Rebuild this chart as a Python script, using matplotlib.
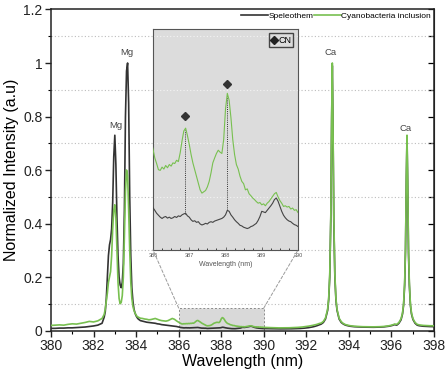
import numpy as np
import matplotlib
matplotlib.use("Agg")
import matplotlib.pyplot as plt
from matplotlib.patches import Rectangle, ConnectionPatch
from matplotlib.lines import Line2D
from matplotlib.ticker import MultipleLocator, FixedLocator, FixedFormatter
import matplotlib.transforms as mtransforms

plt.rcParams['font.family'] = ['Liberation Sans', 'DejaVu Sans']

# ---------------- data ----------------
wl_a = [380.0, 380.2, 380.4, 380.6, 380.8, 381.0, 381.2, 381.4, 381.6, 381.8, 382.0, 382.2, 382.4]
blk_a = [0.008, 0.008, 0.009, 0.009, 0.010, 0.010, 0.011, 0.012, 0.013, 0.015, 0.017, 0.020, 0.027]
grn_a = [0.019, 0.020, 0.021, 0.020, 0.023, 0.025, 0.024, 0.027, 0.030, 0.034, 0.032, 0.036, 0.045]

wl_mg = [382.50, 382.55, 382.60, 382.65, 382.70, 382.75, 382.80, 382.85, 382.90, 382.95,
         383.00, 383.05, 383.10, 383.15, 383.20, 383.25, 383.30, 383.35, 383.40, 383.45,
         383.50, 383.55, 383.60, 383.65, 383.70, 383.75, 383.80, 383.85, 383.90, 383.95,
         384.00, 384.05, 384.10, 384.15, 384.20]
blk_mg = [0.05, 0.07, 0.12, 0.20, 0.28, 0.32, 0.34, 0.38, 0.48, 0.65,
          0.73, 0.62, 0.42, 0.28, 0.20, 0.17, 0.16, 0.18, 0.25, 0.45,
          0.80, 0.97, 1.00, 0.85, 0.50, 0.28, 0.16, 0.11, 0.08, 0.065,
          0.055, 0.048, 0.043, 0.040, 0.037]
grn_mg = [0.06, 0.08, 0.11, 0.14, 0.18, 0.20, 0.22, 0.28, 0.38, 0.45,
          0.47, 0.42, 0.30, 0.18, 0.12, 0.10, 0.105, 0.13, 0.20, 0.35,
          0.52, 0.60, 0.58, 0.45, 0.30, 0.18, 0.12, 0.09, 0.075, 0.065,
          0.058, 0.052, 0.050, 0.048, 0.046]

wl_b = [384.3, 384.4, 384.5, 384.6, 384.7, 384.8, 384.9, 385.0, 385.1, 385.2,
        385.3, 385.4, 385.5, 385.6, 385.7, 385.8, 385.9, 386.0]
blk_b = [0.035, 0.033, 0.031, 0.030, 0.029, 0.028, 0.027, 0.025, 0.024, 0.022,
         0.021, 0.020, 0.019, 0.018, 0.017, 0.016, 0.015, 0.013]
grn_b = [0.045, 0.043, 0.042, 0.040, 0.041, 0.043, 0.045, 0.042, 0.039, 0.037,
         0.036, 0.035, 0.037, 0.041, 0.045, 0.042, 0.036, 0.031]

# CN region (386 - 390 nm), 0.05 nm steps
wl_cn = [386.05, 386.10, 386.15, 386.20, 386.25, 386.30, 386.35, 386.40, 386.45, 386.50,
         386.55, 386.60, 386.65, 386.70, 386.75, 386.80, 386.85, 386.90, 386.95, 387.00,
         387.05, 387.10, 387.15, 387.20, 387.25, 387.30, 387.35, 387.40, 387.45, 387.50,
         387.55, 387.60, 387.65, 387.70, 387.75, 387.80, 387.85, 387.90, 387.95, 388.00,
         388.05, 388.10, 388.15, 388.20, 388.25, 388.30, 388.35, 388.40, 388.45, 388.50,
         388.55, 388.60, 388.65, 388.70, 388.75, 388.80, 388.85, 388.90, 388.95, 389.00,
         389.05, 389.10, 389.15, 389.20, 389.25, 389.30, 389.35, 389.40, 389.45, 389.50,
         389.55, 389.60, 389.65, 389.70, 389.75, 389.80, 389.85, 389.90, 389.95, 390.00]
grn_cn = [0.0283, 0.0266, 0.0247, 0.0245, 0.0255, 0.0249, 0.0260, 0.0253, 0.0263, 0.0258,
          0.0268, 0.0266, 0.0276, 0.0272, 0.0299, 0.0335, 0.0366, 0.0375, 0.0352, 0.0325,
          0.0294, 0.0268, 0.0247, 0.0227, 0.0204, 0.0185, 0.0175, 0.0179, 0.0183, 0.0194,
          0.0211, 0.0237, 0.0268, 0.0283, 0.0297, 0.0307, 0.0301, 0.0297, 0.0340, 0.0433,
          0.0482, 0.0461, 0.0407, 0.0340, 0.0294, 0.0263, 0.0249, 0.0227, 0.0211, 0.0204,
          0.0185, 0.0188, 0.0173, 0.0167, 0.0160, 0.0155, 0.0149, 0.0144, 0.0146, 0.0139,
          0.0142, 0.0136, 0.0144, 0.0149, 0.0157, 0.0165, 0.0173, 0.0177, 0.0163, 0.0152,
          0.0144, 0.0134, 0.0136, 0.0132, 0.0134, 0.0126, 0.0129, 0.0122, 0.0124, 0.0115]
blk_cn = [0.0122, 0.0113, 0.0107, 0.0101, 0.0097, 0.0101, 0.0103, 0.0098, 0.0101, 0.0097,
          0.0099, 0.0103, 0.0100, 0.0105, 0.0103, 0.0108, 0.0111, 0.0113, 0.0105, 0.0101,
          0.0093, 0.0088, 0.0090, 0.0085, 0.0087, 0.0080, 0.0077, 0.0079, 0.0082, 0.0080,
          0.0085, 0.0087, 0.0085, 0.0089, 0.0091, 0.0093, 0.0095, 0.0097, 0.0101, 0.0108,
          0.0122, 0.0119, 0.0108, 0.0101, 0.0093, 0.0087, 0.0082, 0.0076, 0.0074, 0.0070,
          0.0068, 0.0066, 0.0068, 0.0072, 0.0074, 0.0078, 0.0082, 0.0091, 0.0103, 0.0119,
          0.0117, 0.0115, 0.0122, 0.0129, 0.0136, 0.0144, 0.0155, 0.0160, 0.0150, 0.0134,
          0.0119, 0.0107, 0.0099, 0.0093, 0.0089, 0.0087, 0.0082, 0.0078, 0.0076, 0.0072]

wl_c = [390.1, 390.2, 390.3, 390.4, 390.5, 390.6, 390.7, 390.8, 390.9, 391.0,
        391.1, 391.2, 391.3, 391.4, 391.5, 391.6, 391.7, 391.8, 391.9, 392.0,
        392.1, 392.2, 392.3, 392.4, 392.5, 392.6]
blk_c = [0.0072, 0.0070, 0.0068, 0.0066, 0.0065, 0.0064, 0.0063, 0.0062, 0.0062, 0.0062,
         0.0063, 0.0064, 0.0065, 0.0067, 0.0069, 0.0072, 0.0076, 0.0081, 0.0088, 0.0096,
         0.0106, 0.0120, 0.0135, 0.0155, 0.0180, 0.0210]
grn_c = [0.0115, 0.0110, 0.0108, 0.0105, 0.0102, 0.0100, 0.0098, 0.0098, 0.0097, 0.0098,
         0.0100, 0.0102, 0.0105, 0.0108, 0.0112, 0.0117, 0.0123, 0.0130, 0.0140, 0.0150,
         0.0162, 0.0176, 0.0192, 0.0210, 0.0230, 0.0260]

wl_ca1 = [392.70, 392.80, 392.90, 393.00, 393.05, 393.10, 393.15, 393.19, 393.22, 393.25,
          393.29, 393.34, 393.39, 393.44, 393.54, 393.64, 393.74, 393.84, 393.94]
grn_ca1 = [0.028, 0.034, 0.047, 0.080, 0.12, 0.21, 0.43, 0.80, 1.00, 0.80,
           0.43, 0.21, 0.12, 0.080, 0.046, 0.033, 0.026, 0.022, 0.020]
blk_ca1 = [0.024, 0.030, 0.043, 0.075, 0.115, 0.20, 0.42, 0.79, 0.99, 0.78,
           0.41, 0.20, 0.115, 0.076, 0.043, 0.030, 0.024, 0.020, 0.018]

wl_d = [394.05, 394.15, 394.25, 394.35, 394.45, 394.55, 394.65, 394.75, 394.85, 394.95,
        395.05, 395.15, 395.25, 395.35, 395.45, 395.55, 395.65, 395.75, 395.85, 395.95,
        396.05, 396.15]
grn_d = [0.018, 0.017, 0.016, 0.0155, 0.015, 0.0145, 0.0142, 0.014, 0.0138, 0.0137,
         0.0136, 0.0136, 0.0137, 0.0139, 0.0142, 0.0146, 0.0152, 0.016, 0.0172, 0.0188,
         0.021, 0.024]
blk_d = [0.016, 0.015, 0.0143, 0.0138, 0.0133, 0.013, 0.0127, 0.0125, 0.0123, 0.0122,
         0.0121, 0.0121, 0.0122, 0.0124, 0.0127, 0.0131, 0.0137, 0.0145, 0.0157, 0.0172,
         0.0192, 0.022]

wl_ca2 = [396.25, 396.35, 396.45, 396.52, 396.57, 396.62, 396.66, 396.70, 396.73, 396.76,
          396.80, 396.84, 396.89, 396.94, 397.01, 397.11, 397.21]
grn_ca2 = [0.023, 0.030, 0.044, 0.066, 0.10, 0.18, 0.31, 0.58, 0.73, 0.58,
           0.31, 0.18, 0.10, 0.066, 0.044, 0.030, 0.023]
blk_ca2 = [0.020, 0.027, 0.040, 0.062, 0.095, 0.17, 0.30, 0.57, 0.72, 0.56,
           0.29, 0.17, 0.095, 0.062, 0.041, 0.027, 0.020]

wl_e = [397.3, 397.4, 397.5, 397.6, 397.7, 397.8, 397.9, 398.0]
grn_e = [0.021, 0.020, 0.019, 0.0185, 0.018, 0.0178, 0.0176, 0.0175]
blk_e = [0.018, 0.017, 0.016, 0.0155, 0.015, 0.0148, 0.0146, 0.0145]

wavelength = np.array(wl_a + wl_mg + wl_b + wl_cn + wl_c + wl_ca1 + wl_d + wl_ca2 + wl_e)
speleothem = np.array(blk_a + blk_mg + blk_b + blk_cn + blk_c + blk_ca1 + blk_d + blk_ca2 + blk_e)
cyanobacteria = np.array(grn_a + grn_mg + grn_b + grn_cn + grn_c + grn_ca1 + grn_d + grn_ca2 + grn_e)

peak_labels = ["Mg", "Mg", "Ca", "Ca"]
peak_label_x = [383.05, 383.55, 393.12, 396.68]
peak_label_y = [0.765, 1.038, 1.040, 0.757]

cn_wl = [386.87, 388.05]
cn_marker_y = [0.0412, 0.0512]

ytick_vals = [0, 0.2, 0.4, 0.6, 0.8, 1.0, 1.2]
ytick_labels = ["0", "0.2", "0.4", "0.6", "0.8", "1", "1.2"]

# ---------------- styling ----------------
BLACK = '#333333'
GREEN = '#78c050'

fig = plt.figure(figsize=(4.48, 3.74), dpi=100)
ax = fig.add_axes([0.1138, 0.1163, 0.8550, 0.8583])

ax.plot(wavelength, speleothem, color=BLACK, lw=1.2, label='Speleothem', zorder=3)
ax.plot(wavelength, cyanobacteria, color=GREEN, lw=1.2, label='Cyanobacteria inclusion', zorder=4)

ax.set_xlim(380, 398)
ax.set_ylim(0, 1.2)
ax.set_xticks(range(380, 399, 2))
ax.xaxis.set_minor_locator(MultipleLocator(1))
ax.yaxis.set_major_locator(FixedLocator(ytick_vals))
ax.yaxis.set_major_formatter(FixedFormatter(ytick_labels))
ax.yaxis.set_minor_locator(MultipleLocator(0.1))
ax.tick_params(axis='both', which='major', direction='out', length=4, width=1.0,
               labelsize=10, colors='#222222', pad=2)
ax.tick_params(axis='both', which='minor', direction='out', length=2.5, width=0.8)
ax.tick_params(top=False, right=False, which='both')
ax.yaxis.grid(True, which='minor', linestyle=(0, (1, 2)), color='#bdbdbd', lw=0.8)
for sp in ax.spines.values():
    sp.set_color('#222222')
    sp.set_linewidth(1.1)

sec = ax.secondary_yaxis('right')
sec.yaxis.set_major_locator(MultipleLocator(0.1))
sec.tick_params(direction='in', length=4, width=0.9, labelright=False)
sec.spines['right'].set_color('#222222')

ax.set_xlabel('Wavelength (nm)', fontsize=11.5, labelpad=1)
ax.set_ylabel('Normalized Intensity (a.u)', fontsize=11.5, labelpad=3)

for t, x, y in zip(peak_labels, peak_label_x, peak_label_y):
    ax.text(x, y, t, ha='center', va='center', fontsize=6.8, color='#444444')

ax.legend(loc='upper right', bbox_to_anchor=(1.0, 1.0), frameon=False, fontsize=6,
          ncol=2, handlelength=3.2, handletextpad=0.1, columnspacing=0.0,
          borderaxespad=0.15, borderpad=0.2)

# zoomed region marker in main plot
ax.add_patch(Rectangle((386, 0), 4, 0.084, facecolor='#d9d9d9', edgecolor='#8a8a8a',
                       ls=(0, (2, 2)), lw=0.7, zorder=2))

# ---------------- inset ----------------
axin = fig.add_axes([0.3415, 0.3316, 0.3237, 0.5909])
axin.set_facecolor('#dcdcdc')
axin.plot(wavelength, speleothem, color='#444444', lw=0.8, zorder=3)
axin.plot(wavelength, cyanobacteria, color=GREEN, lw=0.8, zorder=3)
axin.set_xlim(386, 390)
axin.set_ylim(0, 0.068)
axin.set_yticks([])
axin.set_xticks([386, 387, 388, 389, 390])
axin.xaxis.set_minor_locator(MultipleLocator(0.25))
axin.tick_params(axis='x', which='major', direction='in', length=2, width=0.6,
                 labelsize=4, colors='#555555', pad=2)
axin.tick_params(axis='x', which='minor', direction='in', length=1.2, width=0.5)
axin.set_xlabel('Wavelength (nm)', fontsize=5, color='#555555', labelpad=2)
for sp in axin.spines.values():
    sp.set_color('#555555')
    sp.set_linewidth(0.8)

# light dotted gridlines at the main plot's grid levels
blend = mtransforms.blended_transform_factory(axin.transAxes, ax.transData)
for gy in [0.5, 0.7, 0.9, 1.1]:
    axin.add_line(Line2D([0, 1], [gy, gy], transform=blend, color='#f4f4f4',
                         ls=(0, (1, 2)), lw=0.8, zorder=1))

# CN markers and dotted drop lines
for w, my in zip(cn_wl, cn_marker_y):
    g = np.interp(w, wavelength, cyanobacteria)
    b = np.interp(w, wavelength, speleothem)
    axin.plot([w, w], [b, g], color='#333333', ls=(0, (1, 1.2)), lw=0.7, zorder=2)
    axin.plot([w], [my], marker='D', color='#333333', ms=4.5, ls='none', zorder=4)

cn_handle = Line2D([], [], marker='D', color='#222222', ls='none', ms=4)
axin.legend([cn_handle], ['CN'], loc='upper right', fontsize=6.5, frameon=True,
            fancybox=False, edgecolor='#444444', framealpha=1, facecolor='#dcdcdc',
            handlelength=0.6, handletextpad=0.15, borderpad=0.25, borderaxespad=0.5)

# connector lines
for xa, xb in [(386, 0), (390, 1)]:
    con = ConnectionPatch(xyA=(xa, 0.084), coordsA=ax.transData,
                          xyB=(xb, 0), coordsB=axin.transAxes,
                          color='#9a9a9a', ls=(0, (3, 2)), lw=0.7)
    fig.add_artist(con)

fig.savefig('out.png', dpi=100)
